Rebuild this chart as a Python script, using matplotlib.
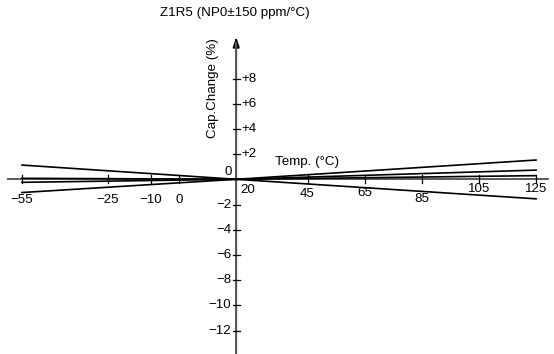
import matplotlib
matplotlib.use("Agg")
import matplotlib.pyplot as plt

plt.rcParams['font.family'] = ['Liberation Sans', 'DejaVu Sans']
plt.rcParams['font.size'] = 9.6

# data: temperature (°C) and capacitance change (%) per curve
temps = [-55, 20, 125]
neg150 = [1.13, 0.0, -1.55]      # -150 ppm/°C limit
pos150 = [-1.05, 0.0, 1.53]      # +150 ppm/°C limit
curve_a = [-0.24, 0.0, 0.29]
curve_b = [0.08, 0.0, 0.73]

xticks = [-55, -25, -10, 0, 20, 45, 65, 85, 105, 125]
xtick_labels = ["\u221255", "\u221225", "\u221210", "0", "20", "45", "65", "85", "105", "125"]
yticks_pos = [2, 4, 6, 8]
yticks_neg = [-2, -4, -6, -8, -10, -12]

# label offsets below the x axis (pixels), staggered like the original
xlab_dy = [-21, -21, -21, -21, -11, -15, -14, -20, -10, -10]

W, H = 554, 354
fig = plt.figure(figsize=(W / 100, H / 100), dpi=100)
ax = fig.add_axes([0, 0, 1, 1])

# pixel mapping: T=-55 -> x=22, 2.856 px/°C ; v=0 -> y=179.3, 12.6 px/%
px_deg, px_pct = 2.856, 12.6
ax.set_xlim(-55 - 22 / px_deg, -55 + (W - 22) / px_deg)
ax.set_ylim(-(H - 179.3) / px_pct, 179.3 / px_pct)
ax.axis('off')

axis_col = '#5a5a5a'
# axes with arrows
ax.annotate('', xy=(131.5, 0), xytext=(-60, 0),
            arrowprops=dict(arrowstyle='-|>,head_length=0.6,head_width=0.2',
                            color='black', lw=1.3, shrinkA=0, shrinkB=0),
            zorder=1)
ax.plot([-60, 129], [0, 0], color=axis_col, lw=1.4, zorder=1)
ax.annotate('', xy=(20, 11.3), xytext=(20, -14),
            arrowprops=dict(arrowstyle='-|>,head_length=0.6,head_width=0.2',
                            color='black', lw=1.3, shrinkA=0, shrinkB=0),
            zorder=1)
ax.plot([20, 20], [-14, 10.8], color=axis_col, lw=1.4, zorder=1)

# ticks
tick_half_x = 4 / px_pct
for t, lab, dy in zip(xticks, xtick_labels, xlab_dy):
    if t != 20:
        ax.plot([t, t], [-tick_half_x, tick_half_x], color='black', lw=0.9, zorder=2)
    if t == 20:
        ax.annotate(lab, (t, 0), xytext=(4, dy), textcoords='offset pixels',
                    ha='left', va='center')
    else:
        ax.annotate(lab, (t, 0), xytext=(0, dy), textcoords='offset pixels',
                    ha='center', va='center')

tick_half_y = 3.5 / px_deg
for v in yticks_pos:
    ax.plot([20 - tick_half_y, 20 + tick_half_y], [v, v], color='black', lw=0.9, zorder=2)
    ax.annotate(f"+{v}", (20, v), xytext=(5, 0), textcoords='offset pixels',
                ha='left', va='center')
for v in yticks_neg:
    ax.plot([20 - tick_half_y, 20 + tick_half_y], [v, v], color='black', lw=0.9, zorder=2)
    ax.annotate(f"\u2212{-v}", (20, v), xytext=(-5, 0), textcoords='offset pixels',
                ha='right', va='center')
ax.annotate("0", (20, 0), xytext=(-8, 7), textcoords='offset pixels',
            ha='center', va='center')

# curves
for ys in (neg150, pos150, curve_a, curve_b):
    ax.plot(temps, ys, color='black', lw=1.2, zorder=3)

# text labels
fig.text(235 / W, 1 - 13 / H, "Z1R5 (NP0\u00b1150 ppm/\u00b0C)", ha='center', va='center')
fig.text(213 / W, 1 - 88 / H, "Cap.Change (%)", rotation=90, ha='center', va='center')
fig.text(275 / W, 1 - 162 / H, "Temp. (\u00b0C)", ha='left', va='center')

fig.savefig("out.png", dpi=100)
